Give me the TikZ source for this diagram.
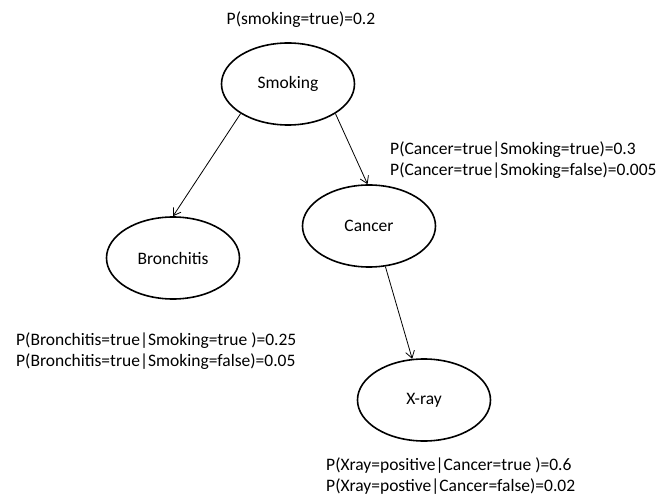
\documentclass[tikz,border=0pt]{standalone}
\usepackage{fontspec}
\setmainfont{Carlito}
\usetikzlibrary{shapes.geometric,arrows.meta}
\tikzset{
  bnode/.style={draw=black, line width=1.6pt, ellipse, minimum width=133pt, minimum height=82pt, inner sep=0pt, font=\fontsize{17.5}{21}\selectfont},
  cpt/.style={anchor=west, inner sep=0pt, align=left, font=\fontsize{17.5}{21}\selectfont},
  edge/.style={draw=black, line width=0.8pt, -{Straight Barb[length=7pt,width=9pt,line width=0.8pt]}}
}
\begin{document}
\begin{tikzpicture}[x=1pt,y=-1pt]
\useasboundingbox (0,0) rectangle (672,497);
\node[bnode] (smoking) at (288,84) {Smoking};
\node[bnode] (cancer) at (369,226) {Cancer};
\node[bnode] (bronch) at (173,258) {Bronchitis};
\node[bnode] (xray) at (424,400) {X-ray};
\node[inner sep=0pt, font=\fontsize{17.5}{21}\selectfont] (ps) at (301,20) {P(smoking=true)=0.2};
\node[cpt] (pc) at (390,160) {P(Cancer=true|Smoking=true)=0.3\\P(Cancer=true|Smoking=false)=0.005};
\node[cpt] (pb) at (16,351) {P(Bronchitis=true|Smoking=true )=0.25\\P(Bronchitis=true|Smoking=false)=0.05};
\node[cpt] (px) at (326,476) {P(Xray=positive|Cancer=true )=0.6\\P(Xray=postive|Cancer=false)=0.02};
\draw[edge] (smoking.212) -- (bronch.90);
\draw[edge] (smoking.-32) -- (cancer.92);
\draw[edge] (cancer.-68) -- (xray.106);
\end{tikzpicture}
\end{document}
